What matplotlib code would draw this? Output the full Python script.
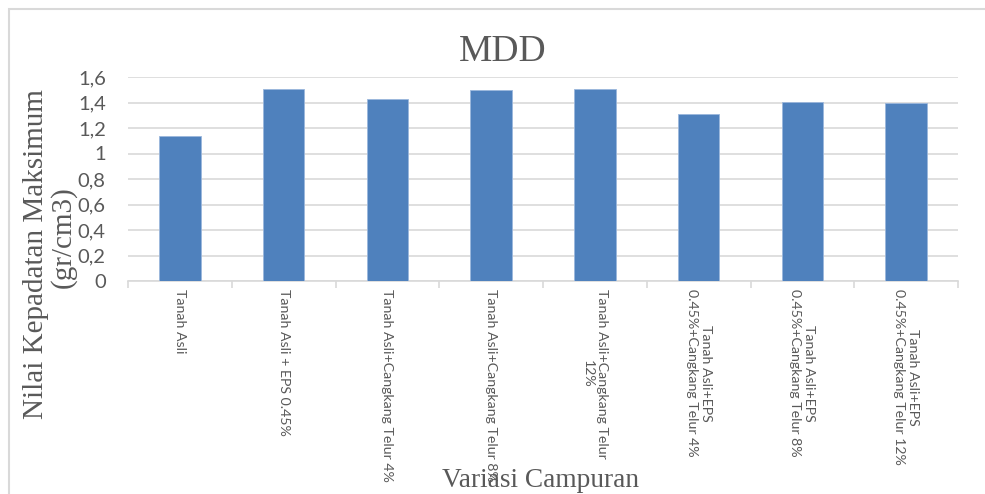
import matplotlib
matplotlib.use("Agg")
import matplotlib.pyplot as plt
from matplotlib.patches import Rectangle
import numpy as np

categories = [
    "Tanah Asli",
    "Tanah Asli + EPS 0.45%",
    "Tanah Asli+Cangkang Telur 4%",
    "Tanah Asli+Cangkang Telur 8%",
    "Tanah Asli+Cangkang Telur\n12%",
    "Tanah Asli+EPS\n0.45%+Cangkang Telur 4%",
    "Tanah Asli+EPS\n0.45%+Cangkang Telur 8%",
    "Tanah Asli+EPS\n0.45%+Cangkang Telur 12%",
]
mdd_values = [1.135, 1.509, 1.428, 1.501, 1.509, 1.307, 1.404, 1.396]
y_ticks = [0, 0.2, 0.4, 0.6, 0.8, 1.0, 1.2, 1.4, 1.6]
y_tick_labels = ["0", "0,2", "0,4", "0,6", "0,8", "1", "1,2", "1,4", "1,6"]

W, H = 985, 494
fig = plt.figure(figsize=(W / 100, H / 100), dpi=100)
fig.patch.set_facecolor("white")

# chart frame (top and left edges visible)
fig.add_artist(Rectangle((9 / W, -0.1), 1.2, 1 - 9 / H + 0.1,
                         transform=fig.transFigure, fill=False,
                         edgecolor="#d9d9d9", linewidth=1.5))

left, right, top, bottom = 128, 958, 77, 281
ax = fig.add_axes([left / W, 1 - bottom / H, (right - left) / W, (bottom - top) / H])

x = np.arange(len(categories))
ax.bar(x, mdd_values, width=0.4, color="#4f81bd", edgecolor="#9bb7dc",
       linewidth=0.6, zorder=3)

ax.set_xlim(-0.5, len(categories) - 0.5)
ax.set_ylim(0, 1.6)
ax.set_yticks(y_ticks)
ax.set_yticklabels(y_tick_labels, fontsize=14.5, color="#595959", family="Lato")
ax.tick_params(axis="y", length=0, pad=16)

ax.yaxis.grid(True, color="#d9d9d9", linewidth=1.2, zorder=0)
ax.set_axisbelow(True)
for s in ["top", "right", "left"]:
    ax.spines[s].set_visible(False)
ax.spines["bottom"].set_color("#d9d9d9")
ax.spines["bottom"].set_linewidth(1.2)

# category boundary ticks
ax.set_xticks(np.arange(len(categories) + 1) - 0.5)
ax.set_xticklabels([])
ax.tick_params(axis="x", length=5, color="#d9d9d9", width=1.2)

for i, lab in enumerate(categories):
    ax.annotate(lab, xy=(i, 0), xycoords=("data", "axes fraction"),
                xytext=(0, -6), textcoords="offset points",
                rotation=270, ha="center", va="top", multialignment="center",
                fontsize=10.2, color="#595959", family="Lato",
                annotation_clip=False)

fig.text(503 / W, 1 - 52 / H, "MDD", ha="center", va="center",
         fontsize=27, color="#595959", family="Liberation Serif")
fig.text(541 / W, 1 - 480 / H, "Variasi Campuran", ha="center", va="center",
         fontsize=19.7, color="#595959", family="Liberation Serif")
fig.text(36 / W, 1 - 254 / H, "Nilai Kepadatan Maksimum", ha="center",
         va="center", rotation=90, fontsize=21, color="#595959",
         family="Liberation Serif")
fig.text(63 / W, 1 - 237 / H, "(gr/cm3)", ha="center", va="center",
         rotation=90, fontsize=21, color="#595959", family="Liberation Serif")

fig.savefig("out.png", dpi=100)
